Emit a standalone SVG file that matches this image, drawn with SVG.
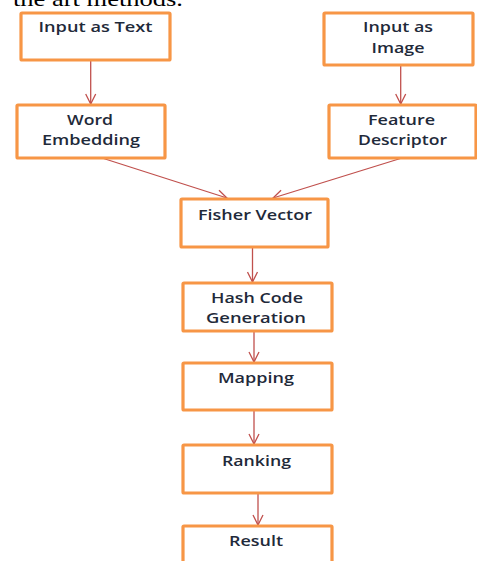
<svg xmlns="http://www.w3.org/2000/svg" width="477" height="561" viewBox="0 0 477 561">
<style>
.box{fill:#fff;stroke:#F79646;stroke-width:3.2}
.t{font-family:"Open Sans","Liberation Sans",sans-serif;font-size:15px;font-weight:600;fill:#1F2A3A;text-anchor:middle}
.c{fill:none;stroke:#C0504D;stroke-width:1.3}
</style>
<defs>
<marker id="ah" viewBox="0 0 12 12" refX="11" refY="6" markerWidth="12" markerHeight="12" markerUnits="userSpaceOnUse" orient="auto">
<path d="M1,1 L11,6 L1,11" fill="none" stroke="#C0504D" stroke-width="1.3"/>
</marker>
</defs>
<rect width="477" height="561" fill="#fff"/>
<text x="13" y="6" font-family="Liberation Serif,serif" font-size="21" fill="#000" textLength="170" lengthAdjust="spacingAndGlyphs">the art methods.</text>
<g id="connectors">
<line class="c" x1="90.7" y1="60" x2="90.7" y2="104" marker-end="url(#ah)"/>
<line class="c" x1="400.7" y1="65" x2="400.7" y2="104" marker-end="url(#ah)"/>
<line class="c" x1="102" y1="158" x2="227" y2="198" marker-end="url(#ah)"/>
<line class="c" x1="402" y1="158" x2="273" y2="198" marker-end="url(#ah)"/>
<line class="c" x1="252.5" y1="247" x2="252.5" y2="282" marker-end="url(#ah)"/>
<line class="c" x1="254" y1="331" x2="254" y2="362" marker-end="url(#ah)"/>
<line class="c" x1="254" y1="410" x2="254" y2="444" marker-end="url(#ah)"/>
<line class="c" x1="258" y1="493" x2="258" y2="525" marker-end="url(#ah)"/>
</g>
<g id="input-text"><rect class="box" x="21" y="13" width="149" height="47" rx="1"/>
<text class="t" x="95.5" y="32" textLength="114" lengthAdjust="spacingAndGlyphs">Input as Text</text></g>
<g id="input-image"><rect class="box" x="324" y="13" width="149" height="52" rx="1"/>
<text class="t" x="398" y="32" textLength="70" lengthAdjust="spacingAndGlyphs">Input as</text>
<text class="t" x="398" y="53" textLength="53" lengthAdjust="spacingAndGlyphs">Image</text></g>
<g id="word-embedding"><rect class="box" x="17" y="105" width="148" height="53" rx="1"/>
<text class="t" x="90" y="125" textLength="46" lengthAdjust="spacingAndGlyphs">Word</text>
<text class="t" x="91" y="145" textLength="98" lengthAdjust="spacingAndGlyphs">Embedding</text></g>
<g id="feature-descriptor"><rect class="box" x="329" y="105" width="147" height="53" rx="1"/>
<text class="t" x="401.5" y="125" textLength="67" lengthAdjust="spacingAndGlyphs">Feature</text>
<text class="t" x="402.5" y="145" textLength="89" lengthAdjust="spacingAndGlyphs">Descriptor</text></g>
<g id="fisher-vector"><rect class="box" x="181" y="199" width="147" height="48" rx="1"/>
<text class="t" x="255" y="220" textLength="114" lengthAdjust="spacingAndGlyphs">Fisher Vector</text></g>
<g id="hash-code"><rect class="box" x="183" y="283" width="149" height="48" rx="1"/>
<text class="t" x="257" y="303" textLength="92" lengthAdjust="spacingAndGlyphs">Hash Code</text>
<text class="t" x="256" y="323" textLength="100" lengthAdjust="spacingAndGlyphs">Generation</text></g>
<g id="mapping"><rect class="box" x="183" y="363" width="149" height="47" rx="1"/>
<text class="t" x="256" y="383" textLength="76" lengthAdjust="spacingAndGlyphs">Mapping</text></g>
<g id="ranking"><rect class="box" x="183" y="445" width="149" height="48" rx="1"/>
<text class="t" x="256.5" y="466" textLength="69" lengthAdjust="spacingAndGlyphs">Ranking</text></g>
<g id="result"><rect class="box" x="183" y="526" width="149" height="48" rx="1"/>
<text class="t" x="256" y="546" textLength="54" lengthAdjust="spacingAndGlyphs">Result</text></g>
</svg>
